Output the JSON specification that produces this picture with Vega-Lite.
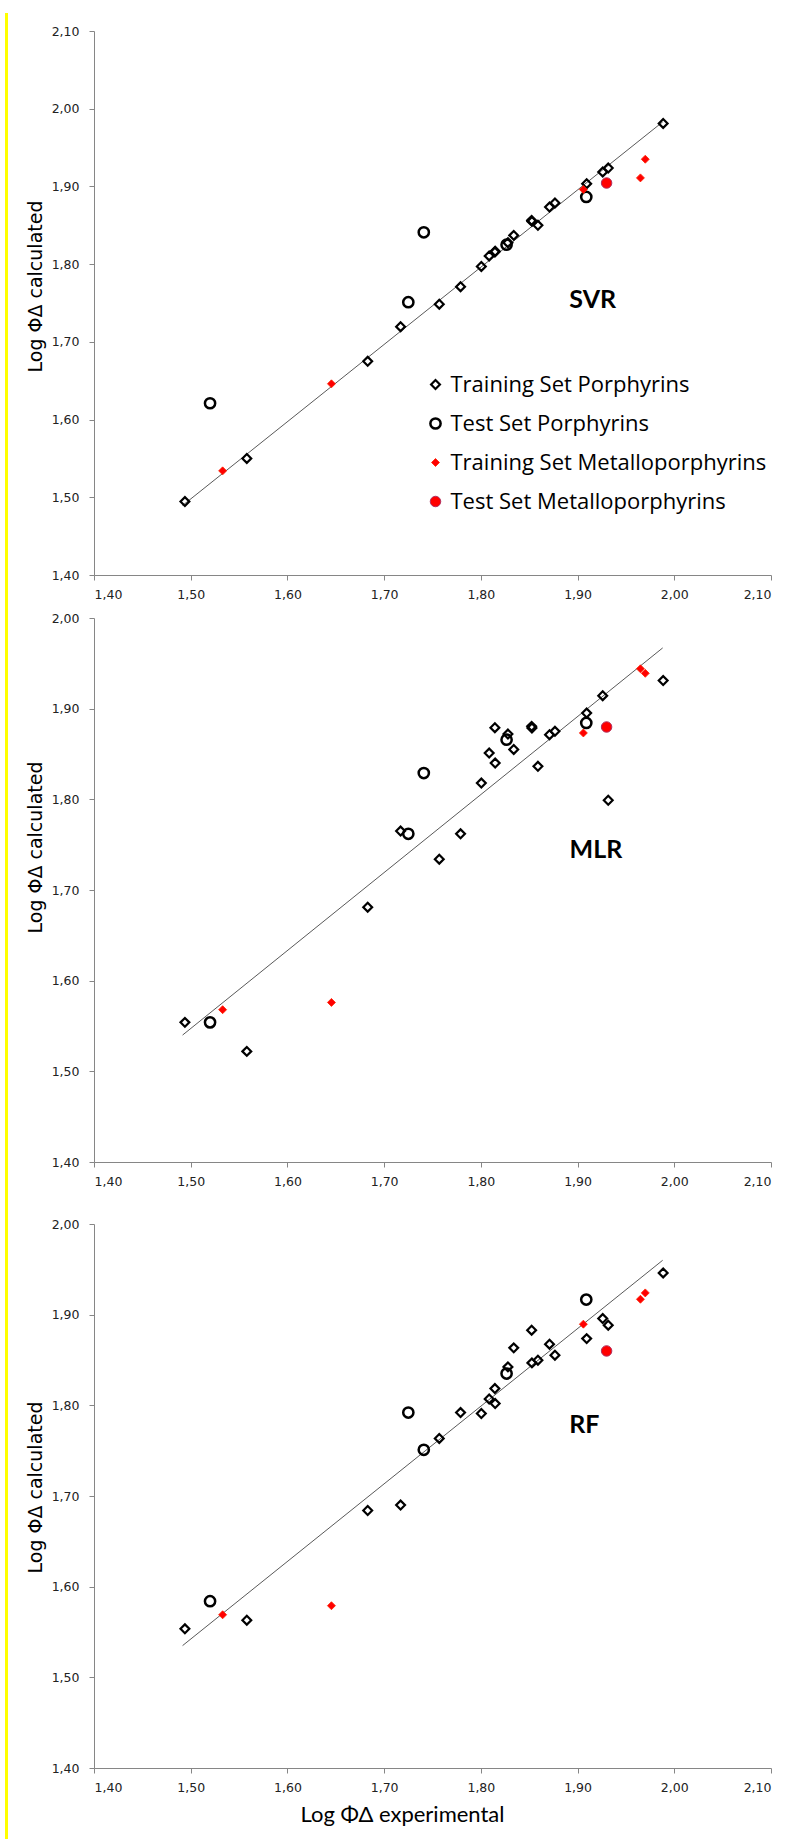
{
  "$schema": "https://vega.github.io/schema/vega-lite/v6.json",
  "background": "white",
  "autosize": {"type": "pad"},
  "padding": {"left": 5, "top": 13, "right": 4, "bottom": 0},
  "config": {
    "locale": {"number": {"decimal": ",", "thousands": ".", "grouping": [3], "currency": ["", " €"]}},
    "view": {"stroke": null},
    "axis": {"grid": false, "domainColor": "#868686", "tickColor": "#868686", "tickSize": 5, "domainWidth": 1, "tickWidth": 1, "labelFont": "DejaVu Sans", "labelFontSize": 12.5, "labelColor": "#222222", "titleColor": "#000000", "titleFontWeight": "normal"},
    "legend": {"orient": "none", "legendX": 330.5, "legendY": 342.5, "title": null, "padding": 0, "labelFont": "Open Sans", "labelFontSize": 22, "labelColor": "#000000", "rowPadding": 17, "labelOffset": 4, "labelLimit": 400}
  },
  "datasets": {
    "pts": [
      {"set": "Training Set Porphyrins", "exp": 1.494, "svr": 1.4945, "mlr": 1.554, "rf": 1.5535},
      {"set": "Training Set Porphyrins", "exp": 1.558, "svr": 1.550, "mlr": 1.522, "rf": 1.563},
      {"set": "Training Set Porphyrins", "exp": 1.683, "svr": 1.675, "mlr": 1.681, "rf": 1.684},
      {"set": "Training Set Porphyrins", "exp": 1.717, "svr": 1.7195, "mlr": 1.765, "rf": 1.690},
      {"set": "Training Set Porphyrins", "exp": 1.757, "svr": 1.7485, "mlr": 1.734, "rf": 1.7635},
      {"set": "Training Set Porphyrins", "exp": 1.779, "svr": 1.771, "mlr": 1.762, "rf": 1.792},
      {"set": "Training Set Porphyrins", "exp": 1.8005, "svr": 1.797, "mlr": 1.818, "rf": 1.791},
      {"set": "Training Set Porphyrins", "exp": 1.8086, "svr": 1.8105, "mlr": 1.851, "rf": 1.807},
      {"set": "Training Set Porphyrins", "exp": 1.8145, "svr": 1.8156, "mlr": 1.879, "rf": 1.8185},
      {"set": "Training Set Porphyrins", "exp": 1.8148, "svr": 1.8166, "mlr": 1.840, "rf": 1.802},
      {"set": "Training Set Porphyrins", "exp": 1.828, "svr": 1.8276, "mlr": 1.872, "rf": 1.8424},
      {"set": "Training Set Porphyrins", "exp": 1.834, "svr": 1.837, "mlr": 1.855, "rf": 1.8634},
      {"set": "Training Set Porphyrins", "exp": 1.8525, "svr": 1.8563, "mlr": 1.8805, "rf": 1.8829},
      {"set": "Training Set Porphyrins", "exp": 1.8528, "svr": 1.855, "mlr": 1.8787, "rf": 1.8468},
      {"set": "Training Set Porphyrins", "exp": 1.859, "svr": 1.850, "mlr": 1.8364, "rf": 1.8498},
      {"set": "Training Set Porphyrins", "exp": 1.871, "svr": 1.8735, "mlr": 1.8713, "rf": 1.8674},
      {"set": "Training Set Porphyrins", "exp": 1.8766, "svr": 1.8787, "mlr": 1.875, "rf": 1.8553},
      {"set": "Training Set Porphyrins", "exp": 1.9094, "svr": 1.9035, "mlr": 1.8952, "rf": 1.8736},
      {"set": "Training Set Porphyrins", "exp": 1.926, "svr": 1.9186, "mlr": 1.9143, "rf": 1.8957},
      {"set": "Training Set Porphyrins", "exp": 1.9317, "svr": 1.9237, "mlr": 1.799, "rf": 1.8884},
      {"set": "Training Set Porphyrins", "exp": 1.9885, "svr": 1.981, "mlr": 1.931, "rf": 1.946},
      {"set": "Test Set Porphyrins", "exp": 1.520, "svr": 1.621, "mlr": 1.554, "rf": 1.584},
      {"set": "Test Set Porphyrins", "exp": 1.725, "svr": 1.751, "mlr": 1.762, "rf": 1.792},
      {"set": "Test Set Porphyrins", "exp": 1.741, "svr": 1.841, "mlr": 1.829, "rf": 1.751},
      {"set": "Test Set Porphyrins", "exp": 1.8266, "svr": 1.825, "mlr": 1.8658, "rf": 1.835},
      {"set": "Test Set Porphyrins", "exp": 1.909, "svr": 1.8864, "mlr": 1.8842, "rf": 1.9166},
      {"set": "Training Set Metalloporphyrins", "exp": 1.533, "svr": 1.534, "mlr": 1.568, "rf": 1.569},
      {"set": "Training Set Metalloporphyrins", "exp": 1.6455, "svr": 1.646, "mlr": 1.576, "rf": 1.579},
      {"set": "Training Set Metalloporphyrins", "exp": 1.906, "svr": 1.896, "mlr": 1.8732, "rf": 1.8895},
      {"set": "Training Set Metalloporphyrins", "exp": 1.965, "svr": 1.911, "mlr": 1.944, "rf": 1.917},
      {"set": "Training Set Metalloporphyrins", "exp": 1.970, "svr": 1.935, "mlr": 1.939, "rf": 1.924},
      {"set": "Test Set Metalloporphyrins", "exp": 1.930, "svr": 1.9044, "mlr": 1.8798, "rf": 1.860}
    ],
    "trend": [
      {"model": "SVR", "x": 1.4916, "y": 1.4895},
      {"model": "SVR", "x": 1.988, "y": 1.983},
      {"model": "MLR", "x": 1.4916, "y": 1.540},
      {"model": "MLR", "x": 1.988, "y": 1.967},
      {"model": "RF", "x": 1.4916, "y": 1.535},
      {"model": "RF", "x": 1.988, "y": 1.960}
    ]
  },
  "spacing": 18,
  "center": true,
  "resolve": {
    "scale": {"x": "independent", "y": "independent", "shape": "independent", "fill": "independent", "stroke": "independent", "strokeWidth": "independent", "size": "independent"},
    "legend": {"shape": "independent", "fill": "independent", "stroke": "independent", "strokeWidth": "independent", "size": "independent"}
  },
  "hconcat": [
    {
      "width": 1,
      "height": 1827,
      "data": {"values": []},
      "mark": "point",
      "view": {"stroke": "#ffff00", "strokeWidth": 2, "fill": null}
    },
    {
      "spacing": 30,
      "resolve": {
        "scale": {"x": "independent", "y": "independent", "shape": "independent", "fill": "independent", "stroke": "independent", "strokeWidth": "independent", "size": "independent"},
        "legend": {"shape": "independent", "fill": "independent", "stroke": "independent", "strokeWidth": "independent", "size": "independent"}
      },
      "vconcat": [
        {
          "spacing": 11,
          "resolve": {
            "scale": {"x": "independent", "y": "independent", "shape": "independent", "fill": "independent", "stroke": "independent", "strokeWidth": "independent", "size": "independent"},
            "legend": {"shape": "independent", "fill": "independent", "stroke": "independent", "strokeWidth": "independent", "size": "independent"}
          },
          "vconcat": [
            {
              "width": 677,
              "height": 544,
              "layer": [
                {
                  "data": {"name": "trend"},
                  "transform": [{"filter": "datum.model === 'SVR'"}],
                  "mark": {"type": "line", "color": "#595959", "strokeWidth": 1},
                  "encoding": {
                    "x": {"field": "x", "type": "quantitative", "scale": {"domain": [1.4, 2.1], "nice": false, "zero": false}, "axis": {"values": [1.4, 1.5, 1.6, 1.7, 1.8, 1.9, 2.0, 2.1], "format": ".2f", "title": null, "labelPadding": 8}},
                    "y": {"field": "y", "type": "quantitative", "scale": {"domain": [1.4, 2.1], "nice": false, "zero": false}, "axis": {"values": [1.4, 1.5, 1.6, 1.7, 1.8, 1.9, 2.0, 2.1], "format": ".2f", "title": "Log ΦΔ calculated", "titleFont": "DejaVu Sans", "titleFontSize": 19, "titleX": -52.5, "titleY": 255, "titleBaseline": "alphabetic", "titleAlign": "center", "titleAngle": -90, "labelPadding": 10}}
                  }
                },
                {
                  "data": {"name": "pts"},
                  "mark": {"type": "point", "filled": true, "opacity": 1},
                  "encoding": {
                    "x": {"field": "exp", "type": "quantitative", "scale": {"domain": [1.4, 2.1], "nice": false, "zero": false}, "axis": {"values": [1.4, 1.5, 1.6, 1.7, 1.8, 1.9, 2.0, 2.1], "format": ".2f", "title": null, "labelPadding": 8}},
                    "y": {"field": "svr", "type": "quantitative", "scale": {"domain": [1.4, 2.1], "nice": false, "zero": false}, "axis": {"values": [1.4, 1.5, 1.6, 1.7, 1.8, 1.9, 2.0, 2.1], "format": ".2f", "title": "Log ΦΔ calculated", "titleFont": "DejaVu Sans", "titleFontSize": 19, "titleX": -52.5, "titleY": 255, "titleBaseline": "alphabetic", "titleAlign": "center", "titleAngle": -90, "labelPadding": 10}},
                    "shape": {"field": "set", "type": "nominal", "scale": {"domain": ["Training Set Porphyrins", "Test Set Porphyrins", "Training Set Metalloporphyrins", "Test Set Metalloporphyrins"], "range": ["diamond", "circle", "diamond", "circle"]}},
                    "fill": {"field": "set", "type": "nominal", "scale": {"domain": ["Training Set Porphyrins", "Test Set Porphyrins", "Training Set Metalloporphyrins", "Test Set Metalloporphyrins"], "range": ["transparent", "transparent", "#ff0000", "#ff0000"]}},
                    "stroke": {"field": "set", "type": "nominal", "scale": {"domain": ["Training Set Porphyrins", "Test Set Porphyrins", "Training Set Metalloporphyrins", "Test Set Metalloporphyrins"], "range": ["#000000", "#000000", "#ff2000", "#b03060"]}},
                    "strokeWidth": {"field": "set", "type": "nominal", "scale": {"type": "ordinal", "domain": ["Training Set Porphyrins", "Test Set Porphyrins", "Training Set Metalloporphyrins", "Test Set Metalloporphyrins"], "range": [2.2, 2.5, 0.8, 1]}},
                    "size": {"field": "set", "type": "nominal", "scale": {"type": "ordinal", "domain": ["Training Set Porphyrins", "Test Set Porphyrins", "Training Set Metalloporphyrins", "Test Set Metalloporphyrins"], "range": [78, 105, 64, 110]}}
                  }
                },
                {
                  "data": {"values": [{}]},
                  "mark": {"type": "text", "text": "SVR", "font": "Lato", "fontSize": 25, "fontWeight": "bold", "color": "#000000", "align": "center", "baseline": "middle"},
                  "encoding": {"x": {"datum": 1.9157}, "y": {"datum": 1.754}}
                }
              ]
            },
            {
              "width": 677,
              "height": 544,
              "layer": [
                {
                  "data": {"name": "trend"},
                  "transform": [{"filter": "datum.model === 'MLR'"}],
                  "mark": {"type": "line", "color": "#595959", "strokeWidth": 1},
                  "encoding": {
                    "x": {"field": "x", "type": "quantitative", "scale": {"domain": [1.4, 2.1], "nice": false, "zero": false}, "axis": {"values": [1.4, 1.5, 1.6, 1.7, 1.8, 1.9, 2.0, 2.1], "format": ".2f", "title": null, "labelPadding": 8}},
                    "y": {"field": "y", "type": "quantitative", "scale": {"domain": [1.4, 2.0], "nice": false, "zero": false}, "axis": {"values": [1.4, 1.5, 1.6, 1.7, 1.8, 1.9, 2.0], "format": ".2f", "title": "Log ΦΔ calculated", "titleFont": "DejaVu Sans", "titleFontSize": 19, "titleX": -52.5, "titleY": 229, "titleBaseline": "alphabetic", "titleAlign": "center", "titleAngle": -90, "labelPadding": 10}}
                  }
                },
                {
                  "data": {"name": "pts"},
                  "mark": {"type": "point", "filled": true, "opacity": 1},
                  "encoding": {
                    "x": {"field": "exp", "type": "quantitative", "scale": {"domain": [1.4, 2.1], "nice": false, "zero": false}, "axis": {"values": [1.4, 1.5, 1.6, 1.7, 1.8, 1.9, 2.0, 2.1], "format": ".2f", "title": null, "labelPadding": 8}},
                    "y": {"field": "mlr", "type": "quantitative", "scale": {"domain": [1.4, 2.0], "nice": false, "zero": false}, "axis": {"values": [1.4, 1.5, 1.6, 1.7, 1.8, 1.9, 2.0], "format": ".2f", "title": "Log ΦΔ calculated", "titleFont": "DejaVu Sans", "titleFontSize": 19, "titleX": -52.5, "titleY": 229, "titleBaseline": "alphabetic", "titleAlign": "center", "titleAngle": -90, "labelPadding": 10}},
                    "shape": {"field": "set", "type": "nominal", "scale": {"domain": ["Training Set Porphyrins", "Test Set Porphyrins", "Training Set Metalloporphyrins", "Test Set Metalloporphyrins"], "range": ["diamond", "circle", "diamond", "circle"]}, "legend": null},
                    "fill": {"field": "set", "type": "nominal", "scale": {"domain": ["Training Set Porphyrins", "Test Set Porphyrins", "Training Set Metalloporphyrins", "Test Set Metalloporphyrins"], "range": ["transparent", "transparent", "#ff0000", "#ff0000"]}, "legend": null},
                    "stroke": {"field": "set", "type": "nominal", "scale": {"domain": ["Training Set Porphyrins", "Test Set Porphyrins", "Training Set Metalloporphyrins", "Test Set Metalloporphyrins"], "range": ["#000000", "#000000", "#ff2000", "#b03060"]}, "legend": null},
                    "strokeWidth": {"field": "set", "type": "nominal", "scale": {"type": "ordinal", "domain": ["Training Set Porphyrins", "Test Set Porphyrins", "Training Set Metalloporphyrins", "Test Set Metalloporphyrins"], "range": [2.2, 2.5, 0.8, 1]}, "legend": null},
                    "size": {"field": "set", "type": "nominal", "scale": {"type": "ordinal", "domain": ["Training Set Porphyrins", "Test Set Porphyrins", "Training Set Metalloporphyrins", "Test Set Metalloporphyrins"], "range": [78, 105, 64, 110]}, "legend": null}
                  }
                },
                {
                  "data": {"values": [{}]},
                  "mark": {"type": "text", "text": "MLR", "font": "Lato", "fontSize": 25, "fontWeight": "bold", "color": "#000000", "align": "center", "baseline": "middle"},
                  "encoding": {"x": {"datum": 1.919}, "y": {"datum": 1.7444}}
                }
              ]
            }
          ]
        },
        {
          "width": 677,
          "height": 544,
          "layer": [
            {
              "data": {"name": "trend"},
              "transform": [{"filter": "datum.model === 'RF'"}],
              "mark": {"type": "line", "color": "#595959", "strokeWidth": 1},
              "encoding": {
                "x": {"field": "x", "type": "quantitative", "scale": {"domain": [1.4, 2.1], "nice": false, "zero": false}, "axis": {"values": [1.4, 1.5, 1.6, 1.7, 1.8, 1.9, 2.0, 2.1], "format": ".2f", "title": "Log ΦΔ experimental", "titleFont": "Lato", "titleFontSize": 22, "titleX": 308, "titleY": 53, "titleBaseline": "alphabetic", "titleAlign": "center", "labelPadding": 8}},
                "y": {"field": "y", "type": "quantitative", "scale": {"domain": [1.4, 2.0], "nice": false, "zero": false}, "axis": {"values": [1.4, 1.5, 1.6, 1.7, 1.8, 1.9, 2.0], "format": ".2f", "title": "Log ΦΔ calculated", "titleFont": "DejaVu Sans", "titleFontSize": 19, "titleX": -52.5, "titleY": 263, "titleBaseline": "alphabetic", "titleAlign": "center", "titleAngle": -90, "labelPadding": 10}}
              }
            },
            {
              "data": {"name": "pts"},
              "mark": {"type": "point", "filled": true, "opacity": 1},
              "encoding": {
                "x": {"field": "exp", "type": "quantitative", "scale": {"domain": [1.4, 2.1], "nice": false, "zero": false}, "axis": {"values": [1.4, 1.5, 1.6, 1.7, 1.8, 1.9, 2.0, 2.1], "format": ".2f", "title": "Log ΦΔ experimental", "titleFont": "Lato", "titleFontSize": 22, "titleX": 308, "titleY": 53, "titleBaseline": "alphabetic", "titleAlign": "center", "labelPadding": 8}},
                "y": {"field": "rf", "type": "quantitative", "scale": {"domain": [1.4, 2.0], "nice": false, "zero": false}, "axis": {"values": [1.4, 1.5, 1.6, 1.7, 1.8, 1.9, 2.0], "format": ".2f", "title": "Log ΦΔ calculated", "titleFont": "DejaVu Sans", "titleFontSize": 19, "titleX": -52.5, "titleY": 263, "titleBaseline": "alphabetic", "titleAlign": "center", "titleAngle": -90, "labelPadding": 10}},
                "shape": {"field": "set", "type": "nominal", "scale": {"domain": ["Training Set Porphyrins", "Test Set Porphyrins", "Training Set Metalloporphyrins", "Test Set Metalloporphyrins"], "range": ["diamond", "circle", "diamond", "circle"]}, "legend": null},
                "fill": {"field": "set", "type": "nominal", "scale": {"domain": ["Training Set Porphyrins", "Test Set Porphyrins", "Training Set Metalloporphyrins", "Test Set Metalloporphyrins"], "range": ["transparent", "transparent", "#ff0000", "#ff0000"]}, "legend": null},
                "stroke": {"field": "set", "type": "nominal", "scale": {"domain": ["Training Set Porphyrins", "Test Set Porphyrins", "Training Set Metalloporphyrins", "Test Set Metalloporphyrins"], "range": ["#000000", "#000000", "#ff2000", "#b03060"]}, "legend": null},
                "strokeWidth": {"field": "set", "type": "nominal", "scale": {"type": "ordinal", "domain": ["Training Set Porphyrins", "Test Set Porphyrins", "Training Set Metalloporphyrins", "Test Set Metalloporphyrins"], "range": [2.2, 2.5, 0.8, 1]}, "legend": null},
                "size": {"field": "set", "type": "nominal", "scale": {"type": "ordinal", "domain": ["Training Set Porphyrins", "Test Set Porphyrins", "Training Set Metalloporphyrins", "Test Set Metalloporphyrins"], "range": [78, 105, 64, 110]}, "legend": null}
              }
            },
            {
              "data": {"values": [{}]},
              "mark": {"type": "text", "text": "RF", "font": "Lato", "fontSize": 25, "fontWeight": "bold", "color": "#000000", "align": "center", "baseline": "middle"},
              "encoding": {"x": {"datum": 1.907}, "y": {"datum": 1.778}}
            }
          ]
        }
      ]
    }
  ]
}
